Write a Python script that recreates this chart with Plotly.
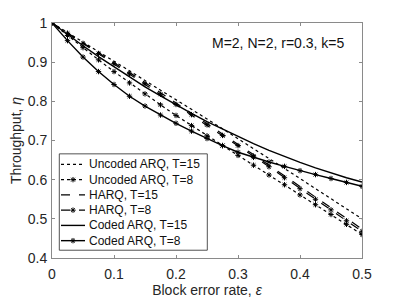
import plotly.graph_objects as go

eps = [0.0, 0.025, 0.05, 0.075, 0.1, 0.125, 0.15, 0.175, 0.2, 0.225, 0.25,
       0.275, 0.3, 0.325, 0.35, 0.375, 0.4, 0.425, 0.45, 0.475, 0.5]

uncoded_t15 = [1.000, 0.976, 0.951, 0.927, 0.902, 0.878, 0.853, 0.829, 0.804, 0.779, 0.755,
               0.730, 0.705, 0.680, 0.655, 0.629, 0.603, 0.577, 0.552, 0.526, 0.500]
uncoded_t8 = [1.000, 0.968, 0.937, 0.906, 0.876, 0.847, 0.819, 0.791, 0.764, 0.738, 0.712,
              0.687, 0.662, 0.637, 0.612, 0.587, 0.561, 0.536, 0.511, 0.486, 0.460]
harq_t15 = [1.000, 0.975, 0.950, 0.924, 0.899, 0.873, 0.848, 0.822, 0.796, 0.770, 0.744,
            0.717, 0.691, 0.664, 0.637, 0.610, 0.582, 0.555, 0.528, 0.501, 0.474]
harq_t8 = [1.000, 0.974, 0.948, 0.922, 0.896, 0.870, 0.844, 0.818, 0.792, 0.766, 0.740,
           0.713, 0.687, 0.660, 0.633, 0.605, 0.577, 0.550, 0.523, 0.495, 0.468]
coded_t15 = [1.000, 0.970, 0.942, 0.914, 0.888, 0.862, 0.837, 0.814, 0.791, 0.769, 0.748,
             0.729, 0.710, 0.692, 0.675, 0.659, 0.644, 0.630, 0.617, 0.605, 0.594]
coded_t8 = [1.000, 0.955, 0.913, 0.876, 0.843, 0.813, 0.788, 0.765, 0.744, 0.724, 0.705,
            0.687, 0.670, 0.657, 0.645, 0.634, 0.623, 0.613, 0.603, 0.593, 0.583]

x_ticks = [0, 0.1, 0.2, 0.3, 0.4, 0.5]
x_ticklabels = ["0", "0.1", "0.2", "0.3", "0.4", "0.5"]
y_ticks = [0.4, 0.5, 0.6, 0.7, 0.8, 0.9, 1.0]
y_ticklabels = ["0.4", "0.5", "0.6", "0.7", "0.8", "0.9", "1"]

series_names = ["Uncoded ARQ, T=15", "Uncoded ARQ, T=8", "HARQ, T=15",
                "HARQ, T=8", "Coded ARQ, T=15", "Coded ARQ, T=8"]
series_values = [uncoded_t15, uncoded_t8, harq_t15, harq_t8, coded_t15, coded_t8]
series_dash = ["dot", "dot", "dash", "dash", "solid", "solid"]
series_marker = [False, True, False, True, False, True]
series_width = [1.2, 1.2, 1.2, 1.2, 1.4, 1.4]

FONT = "Liberation Sans, Arial, Helvetica, sans-serif"
TXT = "#262626"
FRAME = "#8a8a8a"

# page geometry (the html body adds an 8px offset to the figure)
W, H = 399, 299
OFF = 8
PX0, PX1 = 52.0, 362.0      # plot box left/right on the page
PY0, PY1 = 258.5, 22.7      # plot box bottom/top on the page
L = PX0 - OFF
R = W - (PX1 - OFF)
T = PY1 - OFF
B = H - (PY0 - OFF)

MARKER = dict(symbol="asterisk-open", size=4.5, color="black",
              line=dict(color="black", width=1))

fig = go.Figure()
for name, vals, dash, mk, w in zip(series_names, series_values, series_dash,
                                   series_marker, series_width):
    fig.add_trace(go.Scatter(
        x=eps, y=vals, name=name, showlegend=False,
        mode="lines+markers" if mk else "lines",
        line=dict(color="black", dash=dash, width=w),
        marker=MARKER,
    ))

# legend drawn on an overlay axis measured in page pixels (compact rows like the original)
leg_box = (59.3, 154.0, 207.3, 250.7)
leg_row0, leg_step = 164.6, 15.3
leg_x0, leg_x1, leg_tx = 61.0, 85.0, 86.5
shapes = [dict(type="rect", xref="x2", yref="y2",
               x0=leg_box[0], x1=leg_box[2], y0=leg_box[1], y1=leg_box[3],
               line=dict(color=TXT, width=0.8), fillcolor="white", layer="below")]
annotations = []
for i, (name, dash, mk, w) in enumerate(zip(series_names, series_dash,
                                            series_marker, series_width)):
    yc = leg_row0 + i * leg_step
    fig.add_trace(go.Scatter(
        x=[leg_x0, leg_x1], y=[yc, yc],
        xaxis="x2", yaxis="y2", showlegend=False, hoverinfo="skip",
        mode="lines", line=dict(color="black", dash=dash, width=w),
    ))
    if mk:
        fig.add_trace(go.Scatter(
            x=[(leg_x0 + leg_x1) / 2], y=[yc],
            xaxis="x2", yaxis="y2", showlegend=False, hoverinfo="skip",
            mode="markers", marker=MARKER,
        ))
    annotations.append(dict(
        text=name, xref="x2", yref="y2", x=leg_tx, y=yc,
        xanchor="left", yanchor="middle", showarrow=False,
        font=dict(family=FONT, size=12, color="#111"),
    ))
annotations.append(dict(
    text="M=2, N=2, r=0.3, k=5", xref="paper", yref="paper",
    x=0.51, y=0.915, xanchor="left", yanchor="middle", showarrow=False,
    font=dict(family=FONT, size=14, color="#111"),
))

axis_common = dict(
    showgrid=False, zeroline=False, showline=True, linecolor=FRAME, linewidth=1,
    mirror="ticks", ticks="inside", ticklen=3, tickcolor=FRAME, automargin=False,
    tickfont=dict(family=FONT, size=14, color=TXT),
)

fig.update_layout(
    template="none",
    width=W, height=H,
    margin=dict(l=L, r=R, t=T, b=B, pad=0, autoexpand=False),
    paper_bgcolor="white", plot_bgcolor="white",
    font=dict(family=FONT, size=14, color=TXT),
    showlegend=False,
    xaxis=dict(axis_common, range=[0, 0.5], tickvals=x_ticks, ticktext=x_ticklabels,
               ticklabelstandoff=3,
               title=dict(text="Block error rate, <i>ε</i>", standoff=3,
                          font=dict(family=FONT, size=14, color=TXT))),
    yaxis=dict(axis_common, range=[0.4, 1.0], tickvals=y_ticks, ticktext=y_ticklabels,
               ticklabelstandoff=1,
               title=dict(text="Throughput, <i>η</i>", standoff=5,
                          font=dict(family=FONT, size=14, color=TXT))),
    xaxis2=dict(overlaying="x", anchor="y2", range=[PX0, PX1], visible=False,
                fixedrange=True, automargin=False),
    yaxis2=dict(overlaying="y", anchor="x2", range=[PY0, PY1], visible=False,
                fixedrange=True, automargin=False),
    shapes=shapes,
    annotations=annotations,
)

fig.write_html("out.html")
